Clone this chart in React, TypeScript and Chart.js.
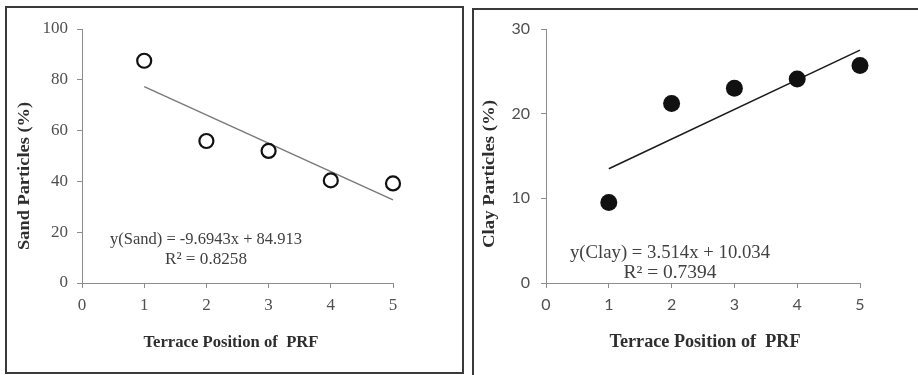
import React, { useEffect, useRef } from "react";
import { Chart, registerables } from "chart.js";

Chart.register(...registerables);

// ---- data ----
const terracePositions = [1, 2, 3, 4, 5];
const sandValues = [87.5, 55.9, 52.0, 40.4, 39.2];
const clayValues = [9.5, 21.2, 23.0, 24.1, 25.7];
const trendX = [1, 5];
const sandTrendValues = [77.3, 32.7];
const clayTrendValues = [13.5, 27.5];
const xTickValues = [0, 1, 2, 3, 4, 5];
const sandTickValues = [0, 20, 40, 60, 80, 100];
const clayTickValues = [0, 10, 20, 30];

const xTitle = "Terrace Position of  PRF";
const sandTitle = "Sand Particles (%)";
const clayTitle = "Clay Particles (%)";
const sandEquation = "y(Sand) = -9.6943x + 84.913";
const sandR2 = "R² = 0.8258";
const clayEquation = "y(Clay) = 3.514x + 10.034";
const clayR2 = "R² = 0.7394";

const W = 918;
const H = 375;
const SERIF = "'Liberation Serif', 'Times New Roman', serif";
const SANS = "Lato, 'Liberation Sans', sans-serif";

type TextItem = {
  text: string;
  x: number;
  y: number;
  font: string;
  color: string;
  rotate?: boolean;
  width?: number;
};

const textPlugin = {
  id: "panelText",
  afterDraw(chart: any) {
    const items: TextItem[] = chart.options.plugins.panelText?.items || [];
    const ctx = chart.ctx;
    items.forEach((it) => {
      ctx.save();
      ctx.font = it.font;
      ctx.fillStyle = it.color;
      ctx.textAlign = "center";
      ctx.textBaseline = "middle";
      ctx.translate(it.x, it.y);
      if (it.rotate) ctx.rotate(-Math.PI / 2);
      if (it.width) {
        const m = ctx.measureText(it.text).width;
        if (m > 0) ctx.scale(it.width / m, 1);
      }
      ctx.fillText(it.text, 0, 0);
      ctx.restore();
    });
  },
};

function makeConfig(opts: {
  values: number[];
  trend: number[];
  yTicks: number[];
  areaLeft: number;
  areaRight: number;
  areaTop: number;
  areaBottom: number;
  filled: boolean;
  trendColor: string;
  tickFont: any;
  tickColor: string;
  yPad: number;
  xPad: number;
  texts: TextItem[];
}) {
  const yMax = opts.yTicks[opts.yTicks.length - 1];
  const yStep = opts.yTicks[1] - opts.yTicks[0];
  return {
    type: "scatter" as const,
    data: {
      datasets: [
        {
          data: trendX.map((x, i) => ({ x, y: opts.trend[i] })),
          showLine: true,
          borderColor: opts.trendColor,
          borderWidth: 1.5,
          pointRadius: 0,
          clip: false,
          order: 2,
        },
        {
          data: terracePositions.map((x, i) => ({ x, y: opts.values[i] })),
          showLine: false,
          pointRadius: opts.filled ? 8.5 : 7,
          pointBackgroundColor: opts.filled ? "#111111" : "rgba(255,255,255,0)",
          pointBorderColor: "#111111",
          pointBorderWidth: opts.filled ? 0 : 2.2,
          clip: false,
          order: 1,
        },
      ],
    },
    options: {
      animation: false as const,
      responsive: false,
      events: [],
      layout: {
        padding: {
          left: 0,
          top: opts.areaTop,
          right: W - opts.areaRight,
          bottom: 0,
        },
      },
      plugins: {
        legend: { display: false },
        tooltip: { enabled: false },
        panelText: { items: opts.texts },
      },
      scales: {
        x: {
          type: "linear" as const,
          min: xTickValues[0],
          max: xTickValues[xTickValues.length - 1],
          afterBuildTicks: (s: any) => {
            s.ticks = xTickValues.map((v) => ({ value: v }));
          },
          afterFit: (s: any) => {
            s.height = H - opts.areaBottom;
          },
          ticks: {
            font: opts.tickFont,
            color: opts.tickColor,
            padding: opts.xPad,
            maxRotation: 0,
          },
          grid: {
            drawOnChartArea: false,
            drawTicks: true,
            tickLength: 5,
            color: "#8c8c8c",
            lineWidth: 1,
          },
          border: { display: true, color: "#8c8c8c", width: 1 },
        },
        y: {
          type: "linear" as const,
          min: opts.yTicks[0],
          max: yMax,
          afterBuildTicks: (s: any) => {
            s.ticks = opts.yTicks.map((v) => ({ value: v }));
          },
          afterFit: (s: any) => {
            s.width = opts.areaLeft;
          },
          ticks: {
            stepSize: yStep,
            font: opts.tickFont,
            color: opts.tickColor,
            padding: opts.yPad,
          },
          grid: {
            drawOnChartArea: false,
            drawTicks: true,
            tickLength: 5,
            color: "#8c8c8c",
            lineWidth: 1,
          },
          border: { display: true, color: "#8c8c8c", width: 1 },
        },
      },
    },
    plugins: [textPlugin],
  };
}

function ChartCanvas({ config }: { config: any }) {
  const ref = useRef<HTMLCanvasElement | null>(null);
  useEffect(() => {
    if (!ref.current) return;
    const chart = new Chart(ref.current, config);
    return () => chart.destroy();
  }, []);
  return (
    <canvas
      ref={ref}
      width={W}
      height={H}
      style={{ position: "absolute", left: 0, top: 0, width: W, height: H }}
    />
  );
}

export default function App() {
  const leftConfig = makeConfig({
    values: sandValues,
    trend: sandTrendValues,
    yTicks: sandTickValues,
    areaLeft: 82,
    areaRight: 393,
    areaTop: 29,
    areaBottom: 283,
    filled: false,
    trendColor: "#7a7a7a",
    tickFont: { family: SERIF, size: 17 },
    tickColor: "#505050",
    yPad: 9,
    xPad: 7,
    texts: [
      { text: sandTitle, x: 25, y: 176, font: `bold 16px ${SERIF}`, color: "#2e2e2e", rotate: true, width: 148 },
      { text: xTitle, x: 231, y: 343, font: `bold 17px ${SERIF}`, color: "#2e2e2e", width: 175 },
      { text: sandEquation, x: 206, y: 240, font: `17px ${SERIF}`, color: "#404040", width: 192 },
      { text: sandR2, x: 206, y: 260, font: `17px ${SERIF}`, color: "#404040", width: 82 },
    ],
  });
  const rightConfig = makeConfig({
    values: clayValues,
    trend: clayTrendValues,
    yTicks: clayTickValues,
    areaLeft: 546,
    areaRight: 860,
    areaTop: 29,
    areaBottom: 283,
    filled: true,
    trendColor: "#1a1a1a",
    tickFont: { family: SANS, size: 16 },
    tickColor: "#505050",
    yPad: 11,
    xPad: 7,
    texts: [
      { text: clayTitle, x: 490, y: 174, font: `bold 16px ${SERIF}`, color: "#2e2e2e", rotate: true, width: 148 },
      { text: xTitle, x: 705, y: 342, font: `bold 18px ${SERIF}`, color: "#2e2e2e", width: 191 },
      { text: clayEquation, x: 670, y: 253, font: `18px ${SERIF}`, color: "#404040", width: 200 },
      { text: clayR2, x: 670, y: 273, font: `18px ${SERIF}`, color: "#404040", width: 93 },
    ],
  });

  return (
    <div
      style={{
        position: "absolute",
        left: 0,
        top: 0,
        width: W,
        height: H,
        overflow: "hidden",
        background: "#ffffff",
      }}
    >
      <div
        style={{
          position: "absolute",
          left: 5,
          top: 6,
          width: 459,
          height: 368,
          border: "2px solid #3a3a3a",
          boxSizing: "border-box",
        }}
      />
      <div
        style={{
          position: "absolute",
          left: 472,
          top: 8,
          width: 480,
          height: 420,
          border: "2px solid #3a3a3a",
          boxSizing: "border-box",
        }}
      />
      <ChartCanvas config={leftConfig} />
      <ChartCanvas config={rightConfig} />
    </div>
  );
}
